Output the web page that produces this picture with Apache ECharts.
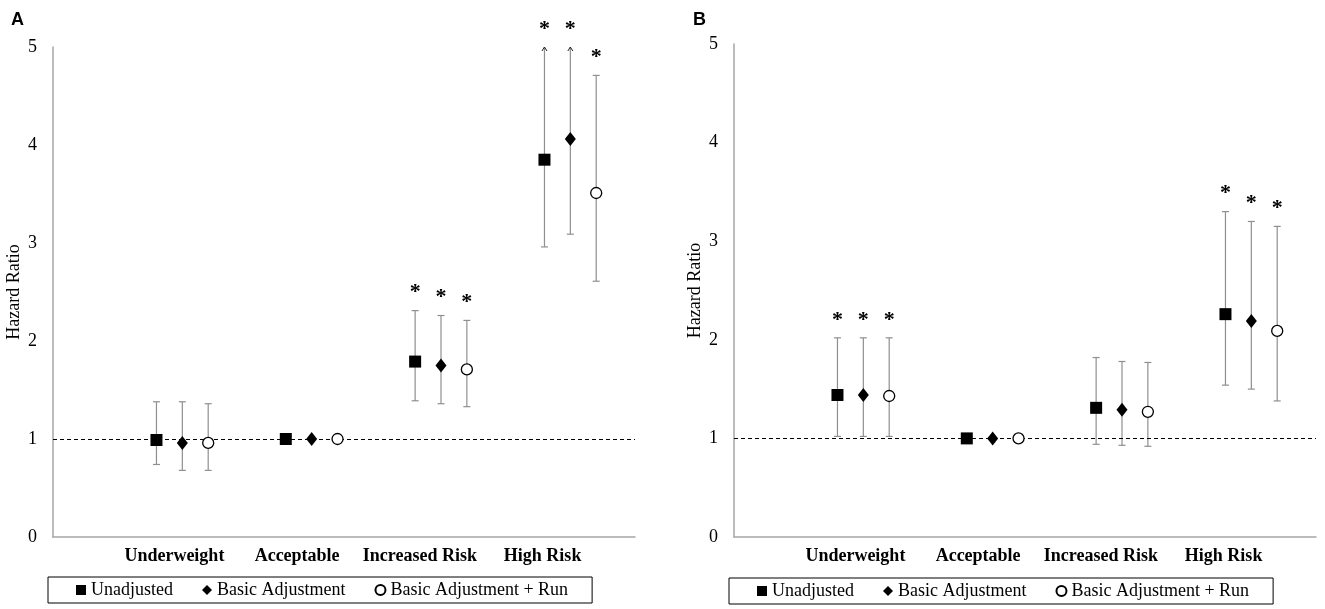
<!DOCTYPE html>
<html>
<head>
<meta charset="utf-8">
<script src="https://cdn.jsdelivr.net/npm/echarts@6/dist/echarts.min.js"></script>
<style>
  html, body { margin: 0; padding: 0; background: #fff; }
  #chart { width: 1325px; height: 609px; }
</style>
</head>
<body>
<div id="chart"></div>
<script>
// categories and series
const categories = ['Underweight', 'Acceptable', 'Increased Risk', 'High Risk'];
const seriesNames = ['Unadjusted', 'Basic Adjustment', 'Basic Adjustment + Run'];
const yTicks = [0, 1, 2, 3, 4, 5];

// panel A: hazard ratio, lower / upper CI, significance (1 = *)
// upper CI of 5 means the bar runs past the top of the axis (drawn with an arrow)
const aUnadjHr  = [0.99, 1.00, 1.79, 3.85];
const aUnadjLo  = [0.74, null, 1.39, 2.96];
const aUnadjHi  = [1.38, null, 2.31, 5.00];
const aUnadjSig = [0, 0, 1, 1];

const aBasicHr  = [0.96, 1.00, 1.75, 4.06];
const aBasicLo  = [0.68, null, 1.36, 3.09];
const aBasicHi  = [1.38, null, 2.26, 5.00];
const aBasicSig = [0, 0, 1, 1];

const aRunHr  = [0.96, 1.00, 1.71, 3.51];
const aRunLo  = [0.68, null, 1.33, 2.61];
const aRunHi  = [1.36, null, 2.21, 4.71];
const aRunSig = [0, 0, 1, 1];

// panel B
const bUnadjHr  = [1.44, 1.00, 1.31, 2.26];
const bUnadjLo  = [1.02, null, 0.94, 1.54];
const bUnadjHi  = [2.02, null, 1.82, 3.30];
const bUnadjSig = [1, 0, 0, 1];

const bBasicHr  = [1.44, 1.00, 1.29, 2.19];
const bBasicLo  = [1.02, null, 0.93, 1.50];
const bBasicHi  = [2.02, null, 1.78, 3.20];
const bBasicSig = [1, 0, 0, 1];

const bRunHr  = [1.43, 1.00, 1.27, 2.09];
const bRunLo  = [1.02, null, 0.92, 1.38];
const bRunHi  = [2.02, null, 1.77, 3.15];
const bRunSig = [1, 0, 0, 1];

const offsets = [-0.2, 0, 0.2];
const yMax = 5;
const serif = '"Liberation Serif", "Times New Roman", serif';
const gray = '#a6a6a6';
const barGray = '#8f8f8f';

const markers = [
  { symbol: 'rect', size: 12, itemStyle: { color: '#000', opacity: 1 } },
  { symbol: 'diamond', size: [11, 14], itemStyle: { color: '#000', opacity: 1 } },
  { symbol: 'circle', size: 11, itemStyle: { color: '#fff', borderColor: '#000', borderWidth: 1.3, opacity: 1 } }
];

const panels = [
  { hr: [aUnadjHr, aBasicHr, aRunHr], lo: [aUnadjLo, aBasicLo, aRunLo], hi: [aUnadjHi, aBasicHi, aRunHi], sig: [aUnadjSig, aBasicSig, aRunSig] },
  { hr: [bUnadjHr, bBasicHr, bRunHr], lo: [bUnadjLo, bBasicLo, bRunLo], hi: [bUnadjHi, bBasicHi, bRunHi], sig: [bUnadjSig, bBasicSig, bRunSig] }
];

function renderErrorBar(params, api) {
  const x = api.value(0), lo = api.value(1), hi = api.value(2), sig = api.value(3);
  const clipped = hi >= yMax;
  const top = api.coord([x, Math.min(hi, yMax)]);
  const bot = api.coord([x, lo]);
  const cap = 3.5;
  const children = [
    { type: 'line', shape: { x1: top[0], y1: top[1], x2: bot[0], y2: bot[1] }, style: { stroke: barGray, lineWidth: 1.2 } },
    { type: 'line', shape: { x1: bot[0] - cap, y1: bot[1], x2: bot[0] + cap, y2: bot[1] }, style: { stroke: barGray, lineWidth: 1.2 } }
  ];
  if (clipped) {
    children.push({ type: 'polyline', shape: { points: [[top[0] - 2.5, top[1] + 4], [top[0], top[1]], [top[0] + 2.5, top[1] + 4]] }, style: { stroke: '#222', lineWidth: 1, fill: null } });
  } else {
    children.push({ type: 'line', shape: { x1: top[0] - cap, y1: top[1], x2: top[0] + cap, y2: top[1] }, style: { stroke: barGray, lineWidth: 1.2 } });
  }
  if (sig) {
    children.push({ type: 'text', style: { text: '*', x: top[0], y: top[1] - 18, align: 'center', verticalAlign: 'middle', font: 'bold 22px ' + serif, fill: '#000' } });
  }
  return { type: 'group', children: children };
}

const series = [];
panels.forEach(function (p, pi) {
  seriesNames.forEach(function (name, si) {
    const bars = [];
    const pts = [];
    categories.forEach(function (c, ci) {
      const x = ci + 1 + offsets[si];
      pts.push([x, p.hr[si][ci]]);
      if (p.lo[si][ci] != null) {
        bars.push([x, p.lo[si][ci], p.hi[si][ci], p.sig[si][ci]]);
      }
    });
    series.push({
      type: 'custom',
      xAxisIndex: pi,
      yAxisIndex: pi,
      renderItem: renderErrorBar,
      data: bars,
      z: 2,
      silent: true,
      clip: false
    });
    const m = markers[si];
    const s = {
      name: name,
      type: 'scatter',
      xAxisIndex: pi,
      yAxisIndex: pi,
      data: pts,
      symbol: m.symbol,
      symbolSize: m.size,
      itemStyle: m.itemStyle,
      emphasis: { disabled: true },
      z: 5
    };
    if (si === 0) {
      s.markLine = {
        silent: true,
        symbol: 'none',
        label: { show: false },
        lineStyle: { color: '#000', type: [4, 3], width: 1.1 },
        data: [{ yAxis: 1 }]
      };
    }
    series.push(s);
  });
});

function valueX(gi) {
  return { type: 'value', gridIndex: gi, min: 0, max: 4.5, axisLine: { show: true, lineStyle: { color: gray, width: 1.5 } }, axisTick: { show: false }, axisLabel: { show: false }, splitLine: { show: false } };
}
function valueY(gi) {
  return {
    type: 'value', gridIndex: gi, min: yTicks[0], max: yTicks[yTicks.length - 1], interval: 1,
    name: 'Hazard Ratio', nameLocation: 'middle', nameGap: 30, nameRotate: 90,
    nameTextStyle: { fontFamily: serif, fontSize: 18, color: '#000' },
    axisLine: { show: true, lineStyle: { color: gray, width: 1.5 } },
    axisTick: { show: false },
    axisLabel: { fontFamily: serif, fontSize: 18, color: '#000', margin: 16 },
    splitLine: { show: false }
  };
}
function labelX(gi) {
  return { type: 'category', gridIndex: gi, data: categories, axisLine: { show: false }, axisTick: { show: false }, axisLabel: { interval: 0, fontFamily: serif, fontWeight: 'bold', fontSize: 18, color: '#000', margin: 10 } };
}
function hiddenY(gi) {
  return { type: 'value', gridIndex: gi, show: false };
}

function legend(left, top) {
  return {
    left: left, top: top,
    data: [
      { name: seriesNames[0], icon: 'rect' },
      { name: seriesNames[1], icon: 'diamond' },
      { name: seriesNames[2], icon: 'circle' }
    ],
    itemWidth: 10, itemHeight: 10, itemGap: 29,
    padding: [4, 24, 4, 28],
    borderColor: '#000', borderWidth: 1, borderRadius: 0,
    backgroundColor: '#fff',
    textStyle: { fontFamily: serif, fontSize: 18, color: '#000' },
    selectedMode: false
  };
}

const option = {
  backgroundColor: '#fff',
  animation: false,
  title: [
    { text: 'A', left: 6, top: 6, textStyle: { fontFamily: '"Liberation Sans", Arial, sans-serif', fontWeight: 'bold', fontSize: 18, color: '#000' } },
    { text: 'B', left: 688, top: 6, textStyle: { fontFamily: '"Liberation Sans", Arial, sans-serif', fontWeight: 'bold', fontSize: 18, color: '#000' } }
  ],
  grid: [
    { left: 53, top: 47, width: 582, height: 490 },
    { left: 734, top: 44, width: 582, height: 493 },
    { left: 113, top: 47, width: 491, height: 490 },
    { left: 794, top: 44, width: 491, height: 493 }
  ],
  xAxis: [valueX(0), valueX(1), labelX(2), labelX(3)],
  yAxis: [valueY(0), valueY(1), hiddenY(2), hiddenY(3)],
  legend: [legend(48, 577), legend(729, 578)],
  series: series
};

const chart = echarts.init(document.getElementById('chart'));
chart.setOption(option);
</script>
</body>
</html>
